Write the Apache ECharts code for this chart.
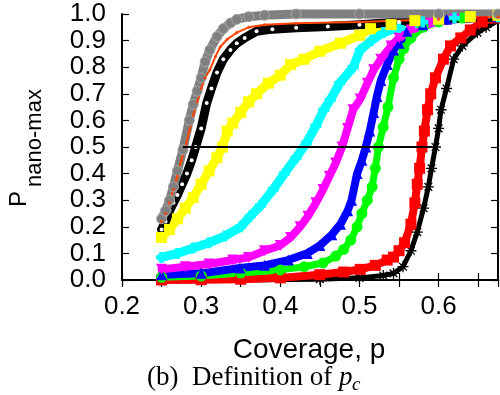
<!DOCTYPE html>
<html><head><meta charset="utf-8">
<script src="https://cdn.jsdelivr.net/npm/echarts@6/dist/echarts.min.js"></script>
<style>html,body{margin:0;padding:0;background:#fff}#c{width:500px;height:395px}</style>
</head><body><div id="c"></div>
<script>
const xTicks = [0.2, 0.3, 0.4, 0.5, 0.6];
const yTicks = [0.0, 0.1, 0.2, 0.3, 0.4, 0.5, 0.6, 0.7, 0.8, 0.9, 1.0];
const gray = [[0.25,0.23],[0.255,0.26],[0.26,0.30],[0.265,0.35],[0.27,0.41],[0.277,0.49],[0.285,0.60],[0.29,0.66],[0.295,0.71],[0.30,0.76],[0.305,0.82],[0.311,0.865],[0.32,0.915],[0.328,0.945],[0.337,0.966],[0.345,0.98],[0.36,0.99],[0.38,0.995],[0.42,1.0],[0.5,1.0],[0.6,1.0],[0.675,1.0]];
const orange = [[0.25,0.22],[0.255,0.25],[0.26,0.29],[0.265,0.34],[0.27,0.39],[0.275,0.45],[0.28,0.50],[0.285,0.56],[0.29,0.62],[0.295,0.67],[0.30,0.72],[0.305,0.76],[0.311,0.79],[0.318,0.84],[0.324,0.876],[0.333,0.905],[0.345,0.93],[0.36,0.95],[0.38,0.96],[0.42,0.965],[0.5,0.97],[0.6,0.98],[0.675,0.99]];
const blackCirc = [[0.25,0.19],[0.255,0.22],[0.26,0.26],[0.265,0.29],[0.27,0.32],[0.276,0.36],[0.282,0.40],[0.288,0.45],[0.293,0.50],[0.30,0.57],[0.307,0.665],[0.313,0.72],[0.32,0.78],[0.328,0.83],[0.337,0.865],[0.345,0.89],[0.355,0.91],[0.37,0.935],[0.39,0.943],[0.42,0.948],[0.46,0.953],[0.5,0.96],[0.55,0.97],[0.6,0.98],[0.675,0.99]];
const yellow = [[0.25,0.16],[0.26,0.19],[0.27,0.23],[0.28,0.27],[0.29,0.31],[0.30,0.36],[0.31,0.41],[0.32,0.46],[0.327,0.50],[0.333,0.56],[0.34,0.59],[0.35,0.63],[0.36,0.67],[0.37,0.70],[0.385,0.74],[0.40,0.77],[0.413,0.81],[0.43,0.83],[0.45,0.86],[0.476,0.89],[0.50,0.92],[0.514,0.945],[0.54,0.96],[0.57,0.975],[0.60,0.98],[0.64,0.99],[0.675,0.995]];
const cyan = [[0.25,0.085],[0.27,0.10],[0.29,0.12],[0.31,0.14],[0.33,0.165],[0.35,0.20],[0.362,0.24],[0.375,0.28],[0.391,0.34],[0.405,0.40],[0.42,0.46],[0.433,0.515],[0.445,0.58],[0.455,0.64],[0.463,0.677],[0.475,0.74],[0.492,0.80],[0.501,0.865],[0.515,0.90],[0.53,0.93],[0.55,0.95],[0.58,0.97],[0.62,0.985],[0.675,0.99]];
const magenta = [[0.25,0.04],[0.28,0.05],[0.31,0.06],[0.34,0.075],[0.36,0.085],[0.38,0.11],[0.40,0.13],[0.413,0.16],[0.425,0.20],[0.435,0.24],[0.445,0.29],[0.454,0.34],[0.462,0.39],[0.47,0.44],[0.478,0.50],[0.485,0.57],[0.492,0.64],[0.501,0.68],[0.51,0.74],[0.518,0.79],[0.527,0.83],[0.54,0.88],[0.55,0.91],[0.565,0.94],[0.59,0.965],[0.62,0.98],[0.675,0.99]];
const blue = [[0.25,0.02],[0.30,0.025],[0.349,0.045],[0.38,0.055],[0.41,0.075],[0.434,0.10],[0.45,0.13],[0.465,0.17],[0.476,0.21],[0.485,0.26],[0.49,0.30],[0.497,0.40],[0.503,0.45],[0.508,0.50],[0.513,0.56],[0.518,0.63],[0.522,0.69],[0.527,0.75],[0.535,0.81],[0.543,0.865],[0.55,0.89],[0.56,0.935],[0.58,0.96],[0.61,0.98],[0.675,0.99]];
const green = [[0.25,0.01],[0.30,0.015],[0.35,0.026],[0.40,0.038],[0.43,0.05],[0.454,0.064],[0.47,0.09],[0.48,0.115],[0.489,0.15],[0.497,0.20],[0.503,0.25],[0.51,0.30],[0.516,0.35],[0.52,0.42],[0.524,0.50],[0.53,0.575],[0.536,0.65],[0.543,0.76],[0.55,0.83],[0.556,0.87],[0.565,0.91],[0.58,0.95],[0.60,0.97],[0.63,0.985],[0.675,0.99]];
const red = [[0.25,0.0],[0.30,0.001],[0.35,0.003],[0.40,0.008],[0.45,0.02],[0.48,0.03],[0.501,0.04],[0.52,0.055],[0.535,0.075],[0.543,0.086],[0.55,0.11],[0.557,0.14],[0.565,0.21],[0.57,0.29],[0.573,0.36],[0.576,0.42],[0.579,0.50],[0.582,0.56],[0.586,0.64],[0.59,0.70],[0.596,0.76],[0.606,0.83],[0.615,0.88],[0.628,0.91],[0.64,0.94],[0.655,0.97],[0.675,0.985]];
const asterisk = [[0.25,0.0],[0.35,0.0],[0.45,0.003],[0.50,0.008],[0.53,0.017],[0.543,0.025],[0.555,0.05],[0.565,0.11],[0.573,0.18],[0.581,0.27],[0.587,0.35],[0.591,0.42],[0.596,0.50],[0.60,0.57],[0.603,0.64],[0.61,0.72],[0.619,0.83],[0.63,0.88],[0.649,0.93],[0.66,0.95],[0.675,0.975]];
const pcLine = [[0.277,0.5],[0.592,0.5]];

const SANS = '"Liberation Sans", Arial, Helvetica, sans-serif';
const SERIF = '"Liberation Serif", "Times New Roman", serif';
function mk(data, color, symbol, size, lw, extra) {
  return Object.assign({
    type: 'line', data: data, symbol: symbol, symbolSize: size, clip: false,
    lineStyle: { color: color, width: lw, join: 'round', cap: 'round' },
    itemStyle: { color: color, borderColor: color, borderWidth: 0 },
    emphasis: { disabled: true }, z: 2
  }, extra || {});
}
const tickStyle = { show: true, inside: true, length: 7, lineStyle: { color: '#000', width: 1.2 } };
const lineAx = { show: true, lineStyle: { color: '#000', width: 2 } };
const fmtX = v => { const k = Math.round(v * 100); return (k % 10 === 0 && xTicks.indexOf(k / 100) >= 0) ? (k / 100).toFixed(1) : ''; };
const fmtY = v => { const k = Math.round(v * 10) / 10; return yTicks.indexOf(k) >= 0 ? k.toFixed(1) : ''; };

const titleMain = '(b)  Definition of ';
const titleFont = '27px ' + SERIF;
let tw = 210;
try { const cv = document.createElement('canvas').getContext('2d'); cv.font = titleFont; tw = cv.measureText(titleMain).width; } catch (e) {}
const tx = 147;

const chart = echarts.init(document.getElementById('c'), null, { renderer: 'canvas' });
chart.setOption({
  animation: false,
  backgroundColor: '#fff',
  grid: { left: 122, right: 2, top: 14, bottom: 115, containLabel: false },
  xAxis: [
    { type: 'value', min: 0.2, max: 0.675, interval: 0.05, position: 'bottom',
      axisLine: lineAx, axisTick: tickStyle, splitLine: { show: false },
      axisLabel: { formatter: fmtX, color: '#000', fontSize: 26, fontFamily: SANS, margin: 14, showMaxLabel: false, hideOverlap: false } },
    { type: 'value', min: 0.2, max: 0.675, interval: 0.05, position: 'top',
      axisLine: lineAx, axisTick: tickStyle, splitLine: { show: false }, axisLabel: { show: false } }
  ],
  yAxis: [
    { type: 'value', min: 0, max: 1, interval: 0.1, position: 'left',
      axisLine: lineAx, axisTick: tickStyle, splitLine: { show: false },
      axisLabel: { formatter: fmtY, color: '#000', fontSize: 26, fontFamily: SANS, margin: 16, hideOverlap: false } },
    { type: 'value', min: 0, max: 1, interval: 0.1, position: 'right',
      axisLine: lineAx, axisTick: tickStyle, splitLine: { show: false }, axisLabel: { show: false } }
  ],
  series: [
    mk(asterisk, '#000', 'path://M5,0L5,10M0,5L10,5M1.5,1.5L8.5,8.5M8.5,1.5L1.5,8.5', 11, 5, { itemStyle: { color: 'none', borderColor: '#000', borderWidth: 1.3 } }),
    mk(red, '#ff0000', 'rect', 11, 8),
    mk(green, '#00ff00', 'circle', 11, 7),
    mk(blue, '#0000ff', 'triangle', 11, 8),
    mk(magenta, '#ff00ff', 'path://M0,0L10,0L5,9Z', 11, 8),
    mk(cyan, '#00ffff', 'path://M3,0H7V3H10V7H7V10H3V7H0V3H3Z', 11, 9),
    mk(yellow, '#ffff00', 'rect', 11, 9),
    mk(blackCirc, '#000', 'circle', 4, 9, { itemStyle: { color: '#fff', borderWidth: 0 } }),
    mk(gray, '#808080', 'circle', 10, 9, { itemStyle: { color: '#808080', borderColor: '#a8a8a8', borderWidth: 1 } }),
    mk(orange, '#ff4500', 'circle', 3, 2),
    { type: 'line', data: pcLine, symbol: 'none', clip: false, lineStyle: { color: '#000', width: 1.8 }, z: 3 }
  ],
  graphic: [
    { id: 'xname', type: 'text', x: 309, y: 350, style: { text: 'Coverage, p', fill: '#000', font: '28px ' + SANS, align: 'center', verticalAlign: 'middle' } },
    { id: 'yP', type: 'text', x: 19, y: 199, rotation: Math.PI / 2, style: { text: 'P', fill: '#000', font: '24px ' + SANS, align: 'center', verticalAlign: 'middle' } },
    { id: 'ySub', type: 'text', x: 35, y: 138, rotation: Math.PI / 2, style: { text: 'nano-max', fill: '#000', font: '22px ' + SANS, align: 'center', verticalAlign: 'middle' } },
    { id: 't1', type: 'text', x: tx, y: 378, style: { text: titleMain, fill: '#000', font: titleFont, align: 'left', verticalAlign: 'middle' } },
    { id: 't2', type: 'text', x: tx + tw, y: 378, style: { text: 'p', fill: '#000', font: 'italic 27px ' + SERIF, align: 'left', verticalAlign: 'middle' } },
    { id: 't3', type: 'text', x: tx + tw + 13, y: 385, style: { text: 'c', fill: '#000', font: 'italic 19px ' + SERIF, align: 'left', verticalAlign: 'middle' } }
  ]
});
</script></body></html>
